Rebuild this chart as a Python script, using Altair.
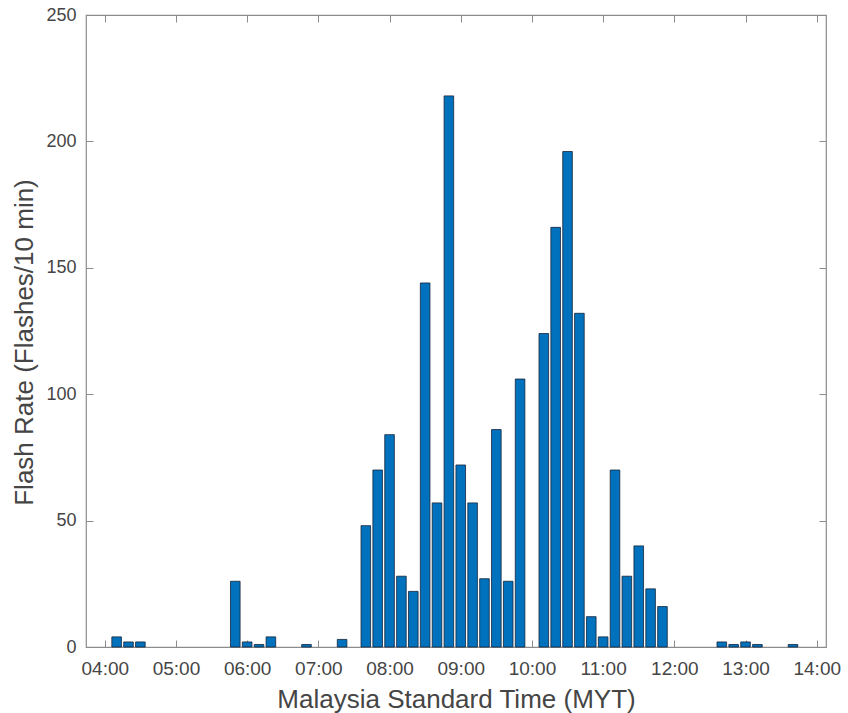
import altair as alt
import pandas as pd

# 10-minute bins (centre time, MYT) and flash counts
times = ["04:10", "04:20", "04:30",
         "05:50", "06:00", "06:10", "06:20", "06:50", "07:20",
         "07:40", "07:50", "08:00", "08:10", "08:20", "08:30", "08:40", "08:50",
         "09:00", "09:10", "09:20", "09:30", "09:40", "09:50",
         "10:10", "10:20", "10:30", "10:40", "10:50", "11:00",
         "11:10", "11:20", "11:30", "11:40", "11:50",
         "12:40", "12:50", "13:00", "13:10", "13:40"]
flashes = [4, 2, 2,
           26, 2, 1, 4, 1, 3,
           48, 70, 84, 28, 22, 144, 57, 218,
           72, 57, 27, 86, 26, 106,
           124, 166, 196, 132, 12, 4,
           70, 28, 40, 23, 16,
           2, 1, 2, 1, 1]

x_tick_minutes = [240, 300, 360, 420, 480, 540, 600, 660, 720, 780, 840]
y_ticks = [0, 50, 100, 150, 200, 250]

df = pd.DataFrame({"time": times, "flashes": flashes})
df["minute"] = [int(t[:2]) * 60 + int(t[3:]) for t in times]

FONT = "Liberation Sans"
TEXT = "#454545"
FRAME = "#8c8c8c"
W, H = 740, 632

x_scale = alt.Scale(domain=[228.4, 843.6], nice=False, zero=False)
y_scale = alt.Scale(domain=[0, 250], nice=False)
label_expr = "(datum.value < 600 ? '0' : '') + floor(datum.value / 60) + ':00'"

bars = alt.Chart(df).mark_bar(
    size=9.6, fill="#0072BD", stroke="#15233a", strokeWidth=0.8
).encode(
    x=alt.X("minute:Q", scale=x_scale, axis=alt.Axis(
        values=x_tick_minutes, labelExpr=label_expr,
        title="Malaysia Standard Time (MYT)",
        ticks=False, tickSize=0, domain=False, grid=False,
        labelPadding=12, labelFont=FONT, labelFontSize=19, labelColor=TEXT,
        titleFont=FONT, titleFontSize=26, titleFontWeight="normal", titleColor=TEXT,
        titleY=60, titleBaseline="alphabetic")),
    y=alt.Y("flashes:Q", scale=y_scale, axis=alt.Axis(
        values=y_ticks, title="Flash Rate (Flashes/10 min)",
        ticks=False, tickSize=0, domain=False, grid=False,
        labelPadding=10, labelFont=FONT, labelFontSize=18, labelColor=TEXT,
        titleFont=FONT, titleFontSize=26, titleFontWeight="normal", titleColor=TEXT,
        titleX=-53.5, titleY=327, titleBaseline="alphabetic")),
)

inner_bottom_left = alt.Chart(df).mark_bar(opacity=0).encode(
    x=alt.X("minute:Q", scale=x_scale, axis=alt.Axis(
        orient="top", offset=-H, values=x_tick_minutes, labels=False,
        tickSize=7, tickColor=FRAME, tickWidth=1, domain=False, grid=False, title=None)),
    y=alt.Y("flashes:Q", scale=y_scale, axis=alt.Axis(
        orient="right", offset=-W, values=y_ticks, labels=False,
        tickSize=7, tickColor=FRAME, tickWidth=1, domain=False, grid=False, title=None)),
)

inner_top_right = alt.Chart(df).mark_bar(opacity=0).encode(
    x=alt.X("minute:Q", scale=x_scale, axis=alt.Axis(
        orient="bottom", offset=-H, values=x_tick_minutes, labels=False,
        tickSize=7, tickColor=FRAME, tickWidth=1, domain=False, grid=False, title=None)),
    y=alt.Y("flashes:Q", scale=y_scale, axis=alt.Axis(
        orient="left", offset=-W, values=y_ticks, labels=False,
        tickSize=7, tickColor=FRAME, tickWidth=1, domain=False, grid=False, title=None)),
)

chart = alt.layer(bars, inner_bottom_left, inner_top_right).resolve_axis(
    x="independent", y="independent"
).properties(
    width=W, height=H,
    autosize="none",
    padding={"left": 86, "top": 15, "right": 22, "bottom": 66},
    background="white",
).configure_view(stroke=FRAME, strokeWidth=1.2)

chart.save("out.html", embed_options={"renderer": "svg", "actions": False})
